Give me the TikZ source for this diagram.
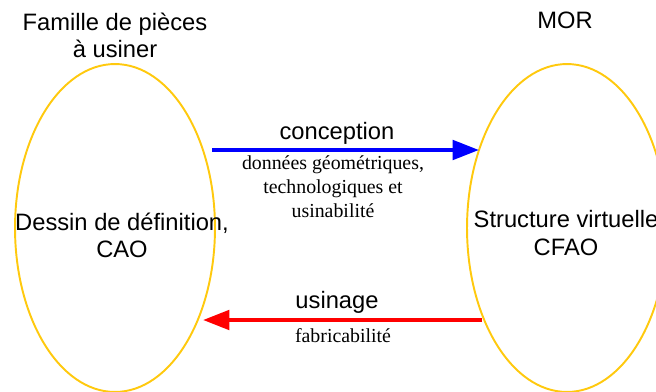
\documentclass[tikz,border=0pt]{standalone}
\usepackage{fontspec}
\setmainfont{Liberation Sans}
\newfontfamily\timesfont{Liberation Serif}
\usepackage{tikz}
\usetikzlibrary{positioning}
\usetikzlibrary{arrows.meta,shapes.geometric}
\definecolor{goldline}{HTML}{FFC90E}
\tikzstyle{ell_y} = [ellipse, draw=goldline, line width=1.1pt, minimum width=4cm, minimum height=6.56cm, inner sep=0pt]
\tikzstyle{lbl_s} = [align=center, inner sep=0pt, font=\fontsize{13.5}{15.5}\selectfont]
\tikzstyle{lbl_t} = [align=center, inner sep=0pt, font=\timesfont\fontsize{11.3}{13.6}\selectfont]
\tikzstyle{arr_b} = [line width=2.3pt, -{Triangle[length=15pt,width=11pt]}]

\begin{document}
\begin{tikzpicture}[x=0.02cm,y=-0.02cm]
\useasboundingbox (0,0) rectangle (656,392);
\clip (0,0) rectangle (656,392);
% the two ellipses
\node [ell_y] (cao_ell) at (115,228) {};
\node [ell_y] (cfao_ell) at (567,228) {};
\node [lbl_s] (dessin) at (122,235) {Dessin de d\'efinition,\\CAO};
\node [lbl_s] (cfao) at (566,233) {Structure virtuelle\\CFAO};
\node [lbl_s] (famille) at (115,35) {Famille de pi\`eces\\\`a usiner};
\node [lbl_s] (mor) at (565,20) {MOR};
% arrows
\coordinate (b_start) at (212,150);
\coordinate (b_end) at (479,150);
\coordinate (r_start) at (482,320);
\coordinate (r_end) at (203,320);
\draw [arr_b, blue] (b_start) -- (b_end);
\draw [arr_b, red] (r_start) -- (r_end);
\node [lbl_s] (conc) at (337,133) {conception};
\node [lbl_t] (donnees) at (333,187) {donn\'ees g\'eom\'etriques,\\technologiques et\\usinabilit\'e};
\node [lbl_s] (usin) at (337,302) {usinage};
\node [lbl_t] (fabric) at (343,336) {fabricabilit\'e};
\end{tikzpicture}
\end{document}
